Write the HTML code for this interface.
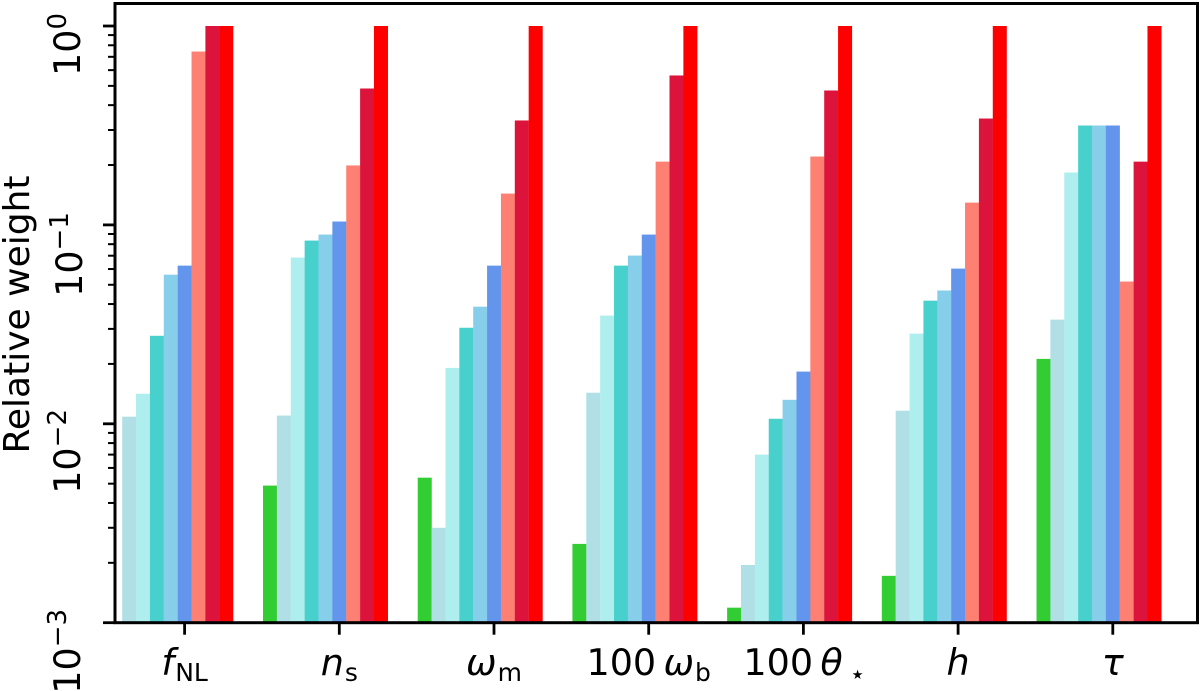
<!DOCTYPE html>
<html>
<head>
<meta charset="utf-8">
<title>Relative weight bar chart</title>
<style>
html,body{margin:0;padding:0;background:#fff;}
svg{display:block;}
text{font-family:"DejaVu Sans","Liberation Sans",sans-serif;fill:#000;}
</style>
</head>
<body>
<svg id="chart" width="1200" height="691" viewBox="0 0 1200 691" xmlns="http://www.w3.org/2000/svg">
  <defs><clipPath id="plot-clip"><rect x="115" y="3.5" width="1082.5" height="619.2"/></clipPath></defs>
  <g id="bars" clip-path="url(#plot-clip)"></g>
  <g id="ticks"></g>
  <g id="labels"></g>
  <text transform="translate(29,453.5) rotate(-90)" font-size="36">Relative weight</text>
  <rect x="115" y="3.5" width="1082.5" height="619.2" fill="none" stroke="#000" stroke-width="3"/>
</svg>
<script>
const categoryPrefix = ["", "", "", "100\u2009", "100\u2009", "", ""];
const categorySymbol = ["f", "n", "\u03c9", "\u03c9", "\u03b8", "h", "\u03c4"];
const categorySub = ["NL", "s", "m", "b", "\u2605", "", ""];
const seriesNames = ["limegreen", "powderblue", "paleturquoise", "mediumturquoise", "skyblue", "cornflowerblue", "salmon", "crimson", "red"];
const seriesColors = ["#32cd32", "#b0e0e6", "#afeeee", "#48d1cc", "#87ceeb", "#6495ed", "#fd8072", "#dc143c", "#ff0000"];
const limegreenValues = [0.0005, 0.00489, 0.00536, 0.00249, 0.00119, 0.00172, 0.0212];
const powderblueValues = [0.01086, 0.0110, 0.0030, 0.01433, 0.00195, 0.01164, 0.0334];
const paleturquoiseValues = [0.01416, 0.0685, 0.0191, 0.035, 0.0070, 0.0284, 0.1834];
const mediumturquoiseValues = [0.0277, 0.0834, 0.0304, 0.0624, 0.0106, 0.0416, 0.316];
const skyblueValues = [0.0562, 0.0894, 0.0388, 0.0701, 0.0132, 0.0468, 0.316];
const cornflowerblueValues = [0.0624, 0.104, 0.0624, 0.0894, 0.0183, 0.0603, 0.316];
const salmonValues = [0.744, 0.199, 0.1437, 0.208, 0.2207, 0.1294, 0.0519];
const crimsonValues = [1, 0.485, 0.335, 0.564, 0.474, 0.3426, 0.208];
const redValues = [1, 1, 1, 1, 1, 1, 1];
const yTickExponents = [0, -1, -2, -3];

const seriesValues = [limegreenValues, powderblueValues, paleturquoiseValues, mediumturquoiseValues, skyblueValues, cornflowerblueValues, salmonValues, crimsonValues, redValues];
const NS = "http://www.w3.org/2000/svg";
const Y_TOP = 26, DECADE = 198.9, Y_BOTTOM = 622.7;
const X_FIRST = 184.6, X_STEP = 154.7, BAR_W = 13.87;
function yScale(v){ return Y_TOP - Math.log10(v) * DECADE; }
function xScale(cat, ser){ return X_FIRST + cat * X_STEP + (ser - 5) * BAR_W; }
function mk(tag, attrs, parent){
  const el = document.createElementNS(NS, tag);
  for (const k in attrs) el.setAttribute(k, attrs[k]);
  parent.appendChild(el);
  return el;
}
const barsG = document.getElementById("bars");
const ticksG = document.getElementById("ticks");
const labelsG = document.getElementById("labels");

seriesValues.forEach(function(vals, s){
  vals.forEach(function(v, c){
    const top = yScale(v);
    const h = Math.max(0, Y_BOTTOM - top);
    const r = mk("rect", {x: xScale(c, s) - BAR_W / 2, y: top, width: BAR_W + 0.15, height: h, fill: seriesColors[s]}, barsG);
    
    
  });
});

yTickExponents.forEach(function(e){
  const y = yScale(Math.pow(10, e));
  const t = mk("line", {x1: 103, x2: 115, y1: y, y2: y, stroke: "#000", "stroke-width": 2.8}, ticksG);
  
  
  if (e > -3) {
    for (let m = 2; m <= 9; m++) {
      const my = yScale(m * Math.pow(10, e) / 10);
      const mt = mk("line", {x1: 108, x2: 115, y1: my, y2: my, stroke: "#000", "stroke-width": 2}, ticksG);
      
      
    }
  }
  const offset = e === 0 ? 50 : (e === -1 ? 72 : (e === -2 ? 70 : 71));
  const baseX = e === -1 ? 82 : 80;
  const txt = mk("text", {transform: "translate(" + baseX + "," + (y + offset) + ") rotate(-90)", "font-size": 36.5}, labelsG);
  
  
  const base = mk("tspan", {}, txt);
  base.textContent = "10";
  const sup = mk("tspan", {dy: -14, "font-size": 26}, txt);
  sup.textContent = e === 0 ? "0" : "\u2212" + Math.abs(e);
});

categorySymbol.forEach(function(sym, c){
  const x = xScale(c, 5);
  const t = mk("line", {x1: x, x2: x, y1: Y_BOTTOM, y2: Y_BOTTOM + 12, stroke: "#000", "stroke-width": 2.8}, ticksG);
  
  
  const txt = mk("text", {x: x, y: 675, "font-size": 36.5, "text-anchor": "middle"}, labelsG);
  
  
  if (categoryPrefix[c]) {
    const p = mk("tspan", {}, txt);
    p.textContent = categoryPrefix[c];
  }
  const sp = mk("tspan", {"font-style": "oblique"}, txt);
  sp.textContent = sym;
  if (categorySub[c]) {
    const isStar = categorySub[c] === "\u2605";
    const sb = mk("tspan", {dy: isStar ? 4 : 6, dx: isStar ? 9 : 1, "font-size": isStar ? 13 : 25}, txt);
    sb.textContent = categorySub[c];
  }
});
</script>
</body>
</html>
